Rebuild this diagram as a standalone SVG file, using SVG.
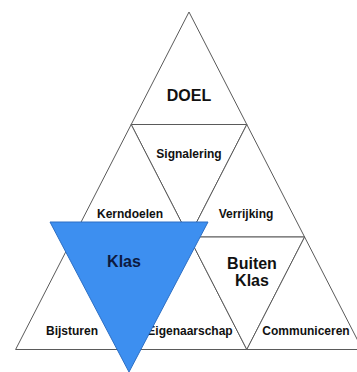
<svg xmlns="http://www.w3.org/2000/svg" width="357" height="372" viewBox="0 0 357 372">
<style>
.tri{fill:#fff;stroke:#5a5a5a;stroke-width:1}
.t{font-family:"Liberation Sans",Arial,sans-serif;font-weight:bold;fill:#111;text-anchor:middle}
.s{font-size:12px}
.b{font-size:16px}
</style>
<rect width="357" height="372" fill="#fff"/>
<g id="doel"><polygon class="tri" points="189,12 131.2,124.5 246.8,124.5"/><text class="t b" x="189" y="101">DOEL</text></g>
<g id="signalering"><polygon class="tri" points="131.2,124.5 246.8,124.5 189,237"/><text class="t s" x="189" y="158">Signalering</text></g>
<g id="kerndoelen"><polygon class="tri" points="131.2,124.5 73.4,237 189,237"/><text class="t s" x="130" y="218">Kerndoelen</text></g>
<g id="verrijking"><polygon class="tri" points="246.8,124.5 189,237 304.6,237"/><text class="t s" x="246" y="218">Verrijking</text></g>
<g id="bijsturen"><polygon class="tri" points="73.4,237 15.6,349.5 131.2,349.5"/><text class="t s" x="72" y="335">Bijsturen</text></g>
<g id="eigenaarschap"><polygon class="tri" points="73.4,237 189,237 131.2,349.5"/><polygon class="tri" points="189,237 131.2,349.5 246.8,349.5"/><text class="t s" x="190" y="335">Eigenaarschap</text></g>
<g id="buiten-klas"><polygon class="tri" points="189,237 304.6,237 246.8,349.5"/><text class="t b" x="252" y="269">Buiten</text><text class="t b" x="252" y="286">Klas</text></g>
<g id="communiceren"><polygon class="tri" points="304.6,237 246.8,349.5 362.4,349.5"/><text class="t s" x="306" y="335">Communiceren</text></g>
<g id="connectors"></g>
<g id="klas"><polygon points="50,222 208,222 129,372" fill="#3d8ff0" stroke="#2d6fc4" stroke-width="1"/><text class="t b" x="124" y="267" style="fill:#0d1a40">Klas</text></g>
</svg>
